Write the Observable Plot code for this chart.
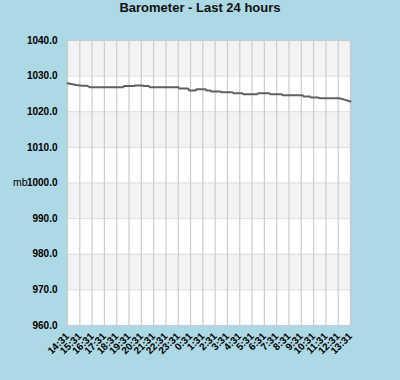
<!DOCTYPE html>
<html>
<head>
<meta charset="utf-8">
<script src="https://cdn.jsdelivr.net/npm/d3@7"></script>
<script src="https://cdn.jsdelivr.net/npm/@observablehq/plot@0.6"></script>
<style>
  html, body { margin: 0; padding: 0; background: #add8e6; width: 400px; height: 380px; overflow: hidden; }
  #title { height: 20px; line-height: 22px; text-align: center; font: bold 13px "Liberation Sans", Arial, sans-serif; color: #111; }
  #chart svg { display: block; background: transparent; }
</style>
</head>
<body>
<div id="title">Barometer - Last 24 hours</div>
<div id="chart"></div>
<script>
// Tick labels (hourly)
const hourLabels = ["14:31","15:31","16:31","17:31","18:31","19:31","20:31","21:31","22:31","23:31",
  "0:31","1:31","2:31","3:31","4:31","5:31","6:31","7:31","8:31","9:31","10:31","11:31","12:31","13:31"];
// Readings: hours since 14:31 and pressure in mb
const hours = [0, 0.7, 1.2, 1.6, 1.8, 4.5, 4.6, 5.4, 5.5, 6.1, 6.2, 6.6, 6.7, 9.0, 9.1, 9.8, 9.9, 10.4, 10.5, 11.2,
  11.3, 11.6, 11.7, 12.4, 12.5, 13.4, 13.5, 14.2, 14.3, 15.4, 15.5, 16.4, 16.5, 17.4, 17.5, 19.1, 19.2, 19.7, 19.8,
  20.4, 20.5, 22.1, 22.5, 23.0];
const pressure = [1028.0, 1027.5, 1027.3, 1027.3, 1026.9, 1026.9, 1027.2, 1027.2, 1027.4, 1027.4, 1027.2, 1027.2,
  1026.9, 1026.9, 1026.5, 1026.5, 1026.0, 1026.0, 1026.3, 1026.3, 1026.0, 1026.0, 1025.7, 1025.7, 1025.5, 1025.5,
  1025.2, 1025.2, 1024.9, 1024.9, 1025.2, 1025.2, 1024.9, 1024.9, 1024.6, 1024.6, 1024.3, 1024.3, 1024.0, 1024.0,
  1023.8, 1023.8, 1023.4, 1022.9];
const yTicks = [960, 970, 980, 990, 1000, 1010, 1020, 1030, 1040];
const bandLow = [970, 990, 1010, 1030];
const bandHigh = [980, 1000, 1020, 1040];

const data = hours.map((h, i) => ({h, p: pressure[i]}));
const bands = bandLow.map((lo, i) => ({lo, hi: bandHigh[i]}));
const hourIdx = hourLabels.map((_, i) => i);

const fontFam = '"Liberation Sans", Arial, sans-serif';

const chart = Plot.plot({
  width: 400,
  height: 360,
  marginTop: 20,
  marginBottom: 55,
  marginLeft: 67,
  marginRight: 50,
  style: {fontFamily: fontFam, fontSize: "10px", fontWeight: "bold", color: "#000", background: "transparent"},
  x: {domain: [0, 23]},
  y: {domain: [960, 1040]},
  marks: [
    Plot.rect([0], {x1: 0, x2: 23, y1: 960, y2: 1040, fill: "#ffffff"}),
    Plot.rect(bands, {x1: () => 0, x2: () => 23, y1: "lo", y2: "hi", fill: "#f3f3f3"}),
    Plot.ruleY(yTicks, {stroke: "#dddddd", strokeWidth: 1}),
    Plot.ruleX(hourIdx, {stroke: "#cccccc", strokeWidth: 1.2}),
    Plot.frame({stroke: "#cccccc", strokeWidth: 1.2}),
    Plot.line(data, {x: "h", y: "p", stroke: "#606060", strokeWidth: 2}),
    Plot.axisY({ticks: yTicks, tickFormat: d3.format(".1f"), tickSize: 0, tickPadding: 10, label: null}),
    Plot.text(["mb"], {frameAnchor: "left", x: () => 0, y: () => 1000, dx: -40, textAnchor: "end", fontWeight: "normal", fontSize: 10.5}),
    Plot.axisX({ticks: hourIdx, tickFormat: i => hourLabels[i], tickSize: 0, tickPadding: 9, tickRotate: -45, label: null})
  ]
});
document.getElementById("chart").appendChild(chart);
</script>
</body>
</html>
